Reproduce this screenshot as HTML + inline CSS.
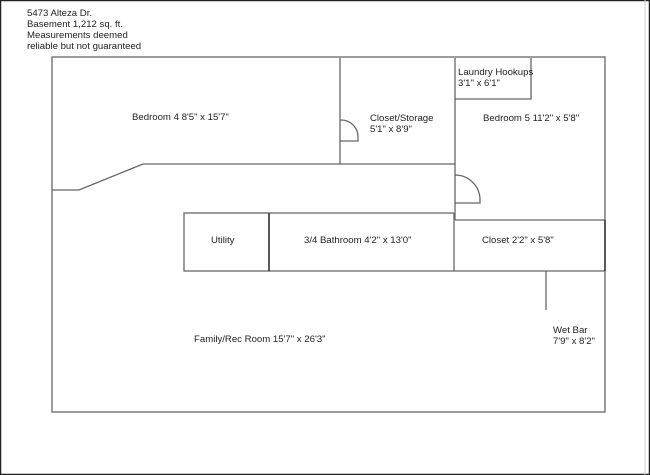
<!DOCTYPE html>
<html><head><style>
html,body{margin:0;padding:0;background:#fff}
svg{display:block}
text{font-family:"Liberation Sans",Arial,sans-serif;font-size:9.6px;fill:#222}
</style></head><body>
<svg width="650" height="475" viewBox="0 0 650 475">
<rect x="0.5" y="0.5" width="649" height="474" fill="#fff" stroke="#222" stroke-width="1.5"/>
<line x1="645" y1="0" x2="645" y2="475" stroke="#ccc" stroke-width="1"/>
<text x="27" y="16">5473 Alteza Dr.</text>
<text x="27" y="27">Basement 1,212 sq. ft.</text>
<text x="27" y="38">Measurements deemed</text>
<text x="27" y="49">reliable but not guaranteed</text>
<g stroke="#666" stroke-width="1.3" fill="none">
<rect x="52" y="57" width="553" height="355"/>
<line x1="340" y1="58" x2="340" y2="164"/>
<line x1="455" y1="58" x2="455" y2="220"/>
<polyline points="455,99 531,99 531,58"/>
<polyline points="52,190 79,190 143,164 455,164"/>
<path d="M340,120 A17,17 0 0 1 358,138 L358,141 L340,141"/>
<path d="M455,175 A25,25 0 0 1 480,200 L480,203 L455,203"/>
<rect x="184" y="213" width="85" height="58"/>
<line x1="269" y1="213" x2="454" y2="213"/>
<line x1="269" y1="271" x2="605" y2="271"/>
<line x1="454" y1="213" x2="454" y2="271"/>
<line x1="455" y1="220" x2="605" y2="220"/>
<line x1="546" y1="271" x2="546" y2="310"/>
</g>
<line x1="605" y1="220" x2="605" y2="271" stroke="#333" stroke-width="1.5"/>
<line x1="269" y1="213" x2="269" y2="271" stroke="#333" stroke-width="1.5"/>
<text x="132" y="120">Bedroom 4 8'5" x 15'7"</text>
<text x="370" y="121">Closet/Storage</text>
<text x="370" y="132">5'1" x 8'9"</text>
<text x="458" y="75">Laundry Hookups</text>
<text x="458" y="86">3'1" x 6'1"</text>
<text x="483" y="121">Bedroom 5 11'2" x 5'8"</text>
<text x="211" y="243">Utility</text>
<text x="304" y="243">3/4 Bathroom 4'2" x 13'0"</text>
<text x="482" y="243">Closet 2'2" x 5'8"</text>
<text x="194" y="342">Family/Rec Room 15'7" x 26'3"</text>
<text x="553" y="333">Wet Bar</text>
<text x="553" y="344">7'9" x 8'2"</text>
</svg>
</body></html>
